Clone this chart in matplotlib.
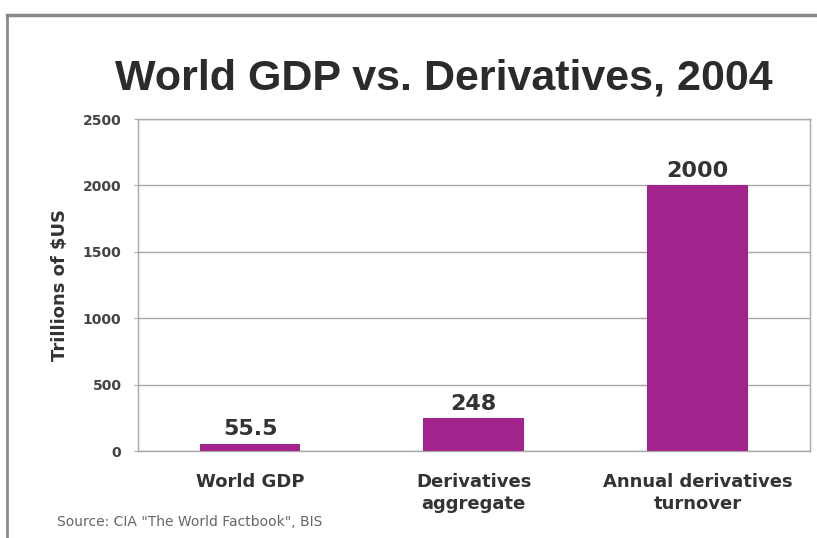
import matplotlib
matplotlib.use("Agg")
import matplotlib.pyplot as plt
from matplotlib.lines import Line2D

# Werte (Billionen US-Dollar)
categories = ["World GDP", "Derivatives\naggregate", "Annual derivatives\nturnover"]
values = [55.5, 248, 2000]
value_labels = ["55.5", "248", "2000"]
y_ticks = [0, 500, 1000, 1500, 2000, 2500]

bar_color = "#A2238C"
text_color = "#333333"
grid_color = "#A8A8A8"
wide_font = ["DejaVu Sans"]

plt.rcParams["font.family"] = ["Liberation Sans", "DejaVu Sans"]

fig = plt.figure(figsize=(8.17, 5.38), dpi=100)
ax = fig.add_axes([0.169, 0.1617, 0.822, 0.6171])

x = range(len(categories))
ax.bar(x, values, width=0.45, color=bar_color, zorder=3)

ax.set_xlim(-0.5, len(categories) - 0.5)
ax.set_ylim(0, 2500)
ax.set_yticks(y_ticks)
ax.set_yticklabels([str(t) for t in y_ticks], fontsize=10, fontweight="bold",
                   color="#444444", family=wide_font)
ax.set_xticks(list(x))
ax.set_xticklabels(categories, fontsize=13, fontweight="bold", color=text_color,
                   linespacing=1.3, family=wide_font)
ax.tick_params(axis="x", length=0, pad=16)
ax.tick_params(axis="y", length=3, color=grid_color, pad=9)

ax.grid(axis="y", color=grid_color, linewidth=1, zorder=0)
for side in ["left", "right", "top", "bottom"]:
    ax.spines[side].set_color(grid_color)
    ax.spines[side].set_linewidth(1)

ax.set_ylabel("Trillions of $US", fontsize=13, fontweight="bold", color=text_color,
              labelpad=10, family=wide_font)

# Werte über die Balken schreiben
for xi, v, lab in zip(x, values, value_labels):
    ax.annotate(lab, (xi, v), xytext=(0, 3), textcoords="offset points",
                ha="center", va="bottom", fontsize=16, fontweight="bold",
                color=text_color, family=wide_font)

fig.text(0.543, 0.855, "World GDP vs. Derivatives, 2004", ha="center", va="center",
         fontsize=31, fontweight="bold", color="#2b2b2b")
fig.text(0.07, 0.03, 'Source: CIA "The World Factbook", BIS', ha="left", va="center",
         fontsize=10, color="#666666", family=wide_font)

# Rahmen oben und links
fig.add_artist(Line2D([0.0085, 1.0], [0.972, 0.972], transform=fig.transFigure,
                      color="#8a8a8a", linewidth=2.5))
fig.add_artist(Line2D([0.0085, 0.0085], [0.0, 0.972], transform=fig.transFigure,
                      color="#8a8a8a", linewidth=2))

fig.savefig("out.png", dpi=100)
